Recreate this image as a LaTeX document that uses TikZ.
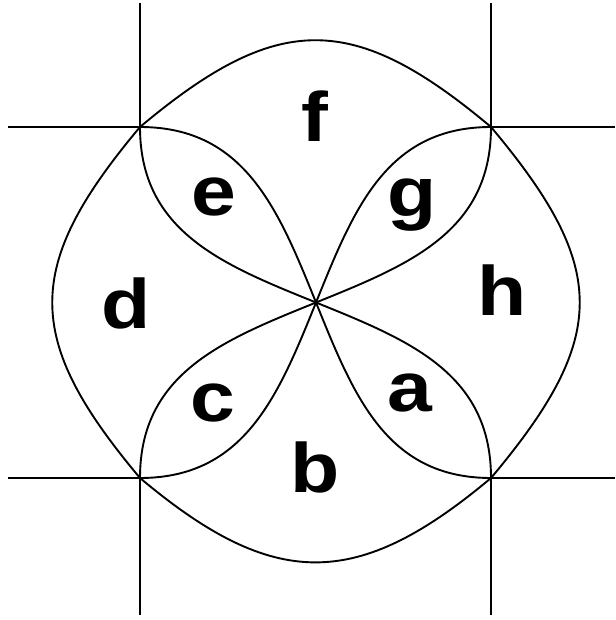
\documentclass[tikz,border=0pt]{standalone}
\usepackage{fontspec}
\newfontfamily\labfont[FakeStretch=1.15]{Liberation Sans}
\begin{document}
\begin{tikzpicture}[x=1pt,y=-1pt,
  ln/.style={line width=1.9pt,black},
  lab/.style={font=\labfont\bfseries\fontsize{70}{70}\selectfont,anchor=base,inner sep=0pt}]
\useasboundingbox[fill=white] (0,0) rectangle (615,620);
% corner points and centre
\coordinate (TL) at (140,127);
\coordinate (TR) at (491,127);
\coordinate (BL) at (140,478);
\coordinate (BR) at (491,478);
\coordinate (O) at (316,302.5);
% line ends
\coordinate (vLt) at (140,3);
\coordinate (vLb) at (140,615);
\coordinate (vRt) at (491,3);
\coordinate (vRb) at (491,615);
\coordinate (hTl) at (8,127);
\coordinate (hTr) at (615,127);
\coordinate (hBl) at (8,478);
\coordinate (hBr) at (615,478);
% straight lines (outside the closed curve only)
\draw[ln] (vLt) -- (TL);
\draw[ln] (BL) -- (vLb);
\draw[ln] (vRt) -- (TR);
\draw[ln] (BR) -- (vRb);
\draw[ln] (hTl) -- (TL);
\draw[ln] (TR) -- (hTr);
\draw[ln] (hBl) -- (BL);
\draw[ln] (BR) -- (hBr);
% outer curve
\draw[ln] (TL) .. controls +(137.9,-115.7) and +(-137.9,-115.7) .. (TR)
              .. controls +(118.3,140.9) and +(118.3,-140.9) .. (BR)
              .. controls +(-134.1,112.5) and +(134.1,112.5) .. (BL)
              .. controls +(-117,-139.4) and +(-117,139.4) .. (TL);
% petals
\draw[ln] (TL) .. controls +(105,0) and +(-37.5,-92.7) .. (O);
\draw[ln] (TL) .. controls +(0,105) and +(-92.7,-37.5) .. (O);
\draw[ln] (TR) .. controls +(-105,0) and +(37.5,-92.7) .. (O);
\draw[ln] (TR) .. controls +(0,105) and +(92.7,-37.5) .. (O);
\draw[ln] (BL) .. controls +(105,0) and +(-37.5,92.7) .. (O);
\draw[ln] (BL) .. controls +(0,-105) and +(-92.7,37.5) .. (O);
\draw[ln] (BR) .. controls +(-105,0) and +(37.5,92.7) .. (O);
\draw[ln] (BR) .. controls +(0,-105) and +(92.7,37.5) .. (O);
% labels
\node[lab] (f) at (315,142) {f};
\node[lab] (e) at (214,215) {e};
\node[lab] (g) at (412,216) {g};
\node[lab] (d) at (126,328) {d};
\node[lab] (h) at (502,315) {h};
\node[lab] (c) at (213,421) {c};
\node[lab] (a) at (410,411) {a};
\node[lab] (b) at (315,492) {b};
\end{tikzpicture}
\end{document}
